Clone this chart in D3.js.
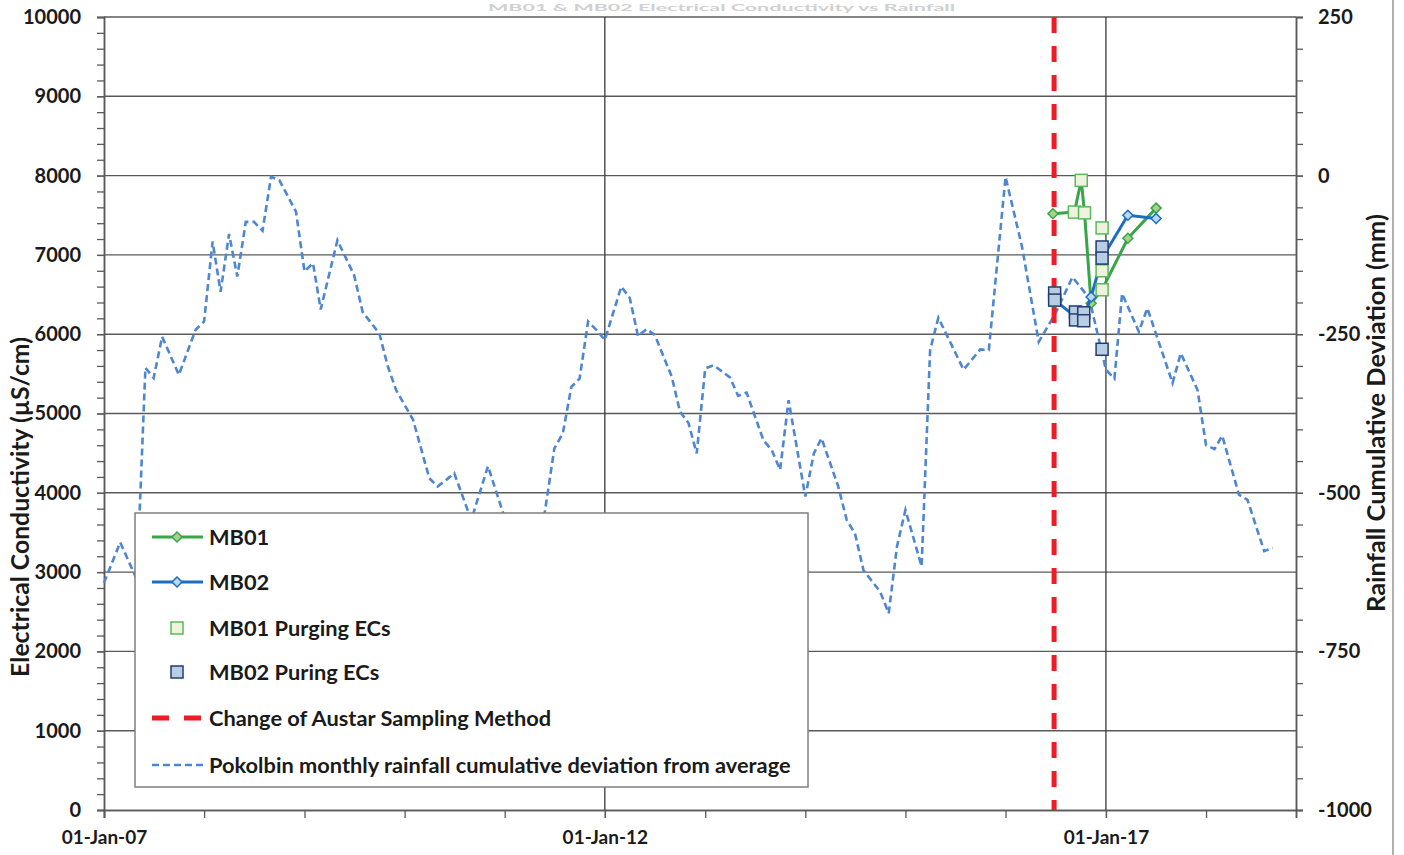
<!DOCTYPE html>
<html><head><meta charset="utf-8">
<script src="https://cdn.jsdelivr.net/npm/d3@7"></script>
<style>
body{margin:0;background:#fff}
svg{display:block}
text{font-family:Lato,"Open Sans",sans-serif;font-weight:700;fill:#1a1a1a}
</style>
</head><body>
<svg id="c" width="1404" height="855"></svg>
<script>
// ---------------- DATA ----------------
const rainMonths = ["2007-01","2007-03","2007-05","2007-06","2007-07","2007-08","2007-10","2007-12",
"2008-01","2008-02","2008-03","2008-04","2008-05","2008-06","2008-07","2008-08","2008-09","2008-10","2008-12",
"2009-01","2009-02","2009-03","2009-05","2009-07","2009-08","2009-10","2009-11","2009-12",
"2010-02","2010-04","2010-05","2010-06","2010-07","2010-09","2010-11",
"2011-01","2011-03","2011-05","2011-07","2011-08","2011-09","2011-10","2011-11","2011-12",
"2012-01","2012-03","2012-04","2012-05","2012-06","2012-07","2012-09","2012-10","2012-11","2012-12",
"2013-01","2013-02","2013-04","2013-05","2013-06","2013-08","2013-09","2013-10","2013-11",
"2014-01","2014-02","2014-03","2014-05","2014-06","2014-07","2014-08","2014-10","2014-11","2014-12",
"2015-01","2015-03","2015-04","2015-05","2015-08","2015-10","2015-11",
"2016-01","2016-03","2016-05","2016-07","2016-09","2016-11",
"2017-01","2017-02","2017-03","2017-05","2017-06","2017-09","2017-10","2017-12",
"2018-01","2018-02","2018-03","2018-05","2018-06","2018-08","2018-09"];
const rainValues = [-642,-578,-637,-303,-319,-254,-314,-243,
-230,-104,-183,-92,-159,-73,-73,-87,-2,-7,-57,
-151,-138,-211,-102,-157,-215,-249,-301,-338,
-385,-477,-490,-480,-469,-543,-458,
-540,-640,-606,-430,-406,-333,-320,-230,-243,
-259,-175,-193,-253,-242,-251,-317,-372,-390,-438,
-304,-299,-318,-347,-342,-417,-433,-464,-354,
-506,-438,-414,-490,-543,-564,-622,-656,-690,-585,
-527,-616,-275,-224,-306,-274,-275,
-2,-112,-262,-217,-160,-193,
-306,-320,-186,-246,-209,-327,-280,-338,
-425,-431,-410,-503,-511,-592,-587];

const mb01Dates = ["2016-06-22","2016-09-08","2016-10-03","2016-10-15","2016-11-08","2016-12-18","2017-03-22","2017-07-03"];
const mb01EC    = [7520,7540,7940,7530,6390,6560,7210,7590];
const mb02Dates = ["2016-06-28","2016-09-12","2016-10-12","2016-11-08","2016-12-18","2017-03-22","2017-07-03"];
const mb02EC    = [6430,6220,6220,6470,6960,7500,7460];
const mb01PurgeDates = ["2016-09-08","2016-10-03","2016-10-15","2016-12-18","2016-12-18","2016-12-18"];
const mb01PurgeEC    = [7540,7940,7530,7340,6800,6560];
const mb02PurgeDates = ["2016-06-28","2016-06-28","2016-09-12","2016-09-12","2016-10-12","2016-10-12","2016-12-18","2016-12-18","2016-12-18"];
const mb02PurgeEC    = [6520,6430,6280,6180,6270,6170,7100,6960,5810];

const samplingChangeDate = "2016-06-26";

const xDomain = ["2007-01-01","2018-11-25"];
const xMajorTicks = ["2007-01-01","2012-01-01","2017-01-01"];
const ecTicks = [0,1000,2000,3000,4000,5000,6000,7000,8000,9000,10000];
const rainTicks = [-1000,-750,-500,-250,0,250];

const legendLabels = ["MB01","MB02","MB01 Purging ECs","MB02 Puring ECs",
  "Change of Austar Sampling Method","Pokolbin monthly rainfall cumulative deviation from average"];
const yTitleLeft = "Electrical Conductivity (µS/cm)";
const yTitleRight = "Rainfall Cumulative Deviation (mm)";
const chartTitle = "MB01 & MB02 Electrical Conductivity vs Rainfall";

// ---------------- STYLE ----------------
const C = {
  grid:"#5a5a5a", vgrid:"#3a3a3a", axis:"#5a5a5a",
  rain:"#4f86d0", red:"#ee1c25",
  g:"#38a548", gFill:"#a9d18e", gSqFill:"#eef3dc", gSqStroke:"#5cb85c",
  b:"#1b6ec2", bFill:"#bdd7ee", bSqFill:"#b9cde5", bSqStroke:"#1f3e6e"
};

const svg = d3.select("#c");
const pd = d3.utcParse("%Y-%m-%d"), pm = d3.utcParse("%Y-%m");
const L=104, R=1296, T=17, B=810;

const x = d3.scaleUtc().domain(xDomain.map(pd)).range([L,R]);
const yEC = d3.scaleLinear().domain([0,10000]).range([B,T]);
const yRain = d3.scaleLinear().domain([-1000,250]).range([B,T]);

function fit(sel, target){
  const w = sel.node().getComputedTextLength();
  const fs = parseFloat(sel.attr("font-size"));
  sel.attr("font-size", fs*target/w);
}

// page border line at right
svg.append("line").attr("x1",1393).attr("x2",1393).attr("y1",0).attr("y2",855)
  .attr("stroke","#b0b0b0").attr("stroke-width",2);

// faint title (mostly cropped in the source image)
svg.append("text").attr("x",488).attr("y",11)
  .attr("font-size",9).attr("textLength",467).attr("lengthAdjust","spacingAndGlyphs")
  .style("fill","#d0d0d0").text(chartTitle);

// gridlines
svg.append("g").selectAll("line").data(ecTicks.filter(d=>d>0)).join("line")
  .attr("x1",L).attr("x2",R).attr("y1",d=>yEC(d)).attr("y2",d=>yEC(d))
  .attr("stroke",C.grid).attr("stroke-width",1.4);
svg.append("g").selectAll("line").data(xMajorTicks.slice(1).map(pd)).join("line")
  .attr("x1",d=>x(d)).attr("x2",d=>x(d)).attr("y1",T).attr("y2",B)
  .attr("stroke",C.vgrid).attr("stroke-width",1.3);

// axes
function styleAxis(g){
  g.selectAll("path.domain").attr("stroke",C.axis).attr("stroke-width",1.5);
  g.selectAll(".tick line").attr("stroke",C.axis).attr("stroke-width",1.3);
  g.selectAll("text").attr("font-family",null).attr("font-size",null)
   .style("font-size","20px").style("font-weight","700").style("fill","#1a1a1a")
   .style("font-family","Lato, 'Open Sans', sans-serif");
}
const fmt = d => String(d);
svg.append("g").attr("transform",`translate(${L},0)`)
  .call(d3.axisLeft(yEC).tickValues(d3.range(0,10001,200)).tickSize(7).tickFormat(""))
  .call(styleAxis);
svg.append("g").attr("transform",`translate(${L},0)`)
  .call(d3.axisLeft(yEC).tickValues(ecTicks).tickSize(7).tickPadding(16).tickFormat(fmt))
  .call(styleAxis);
svg.append("g").attr("transform",`translate(${R},0)`)
  .call(d3.axisRight(yRain).tickValues(d3.range(-1000,251,50)).tickSize(7).tickFormat(""))
  .call(styleAxis);
svg.append("g").attr("transform",`translate(${R},0)`)
  .call(d3.axisRight(yRain).tickValues(rainTicks).tickSize(7).tickPadding(15).tickFormat(fmt))
  .call(styleAxis);
svg.append("g").attr("transform",`translate(0,${B})`)
  .call(d3.axisBottom(x).tickValues(d3.utcYear.range(pd("2007-01-01"), x.domain()[1])).tickSize(8).tickFormat(""))
  .call(styleAxis);
const xb = svg.append("g").attr("transform",`translate(0,${B})`)
  .call(d3.axisBottom(x).tickValues(xMajorTicks.map(pd)).tickSize(8).tickPadding(13).tickFormat(d3.utcFormat("%d-%b-%y")))
  .call(styleAxis);
xb.selectAll("text").style("font-size","19px");

// axis titles
const lt = svg.append("text").attr("transform","translate(29,507) rotate(-90)")
  .attr("text-anchor","middle").attr("font-size",21).text(yTitleLeft);
fit(lt,340);
const rt = svg.append("text").attr("transform","translate(1385,413) rotate(-90)")
  .attr("text-anchor","middle").attr("font-size",21).text(yTitleRight);
fit(rt,398);

// rainfall line
const rain = rainMonths.map((m,i)=>({d:pm(m),v:rainValues[i]}));
svg.append("path").datum(rain)
  .attr("d",d3.line().x(d=>x(d.d)).y(d=>yRain(d.v)))
  .attr("fill","none").attr("stroke",C.rain).attr("stroke-width",2.6)
  .attr("stroke-dasharray","7,4");

// red sampling change line
svg.append("line").attr("x1",x(pd(samplingChangeDate))).attr("x2",x(pd(samplingChangeDate)))
  .attr("y1",T).attr("y2",B).attr("stroke",C.red).attr("stroke-width",5).attr("stroke-dasharray","16,13");

const diamond = "M0,-5L5,0L0,5L-5,0Z";
function series(dates, vals, col, fill){
  const data = dates.map((d,i)=>({d:pd(d),v:vals[i]}));
  svg.append("path").datum(data).attr("d",d3.line().x(d=>x(d.d)).y(d=>yEC(d.v)))
    .attr("fill","none").attr("stroke",col).attr("stroke-width",3);
  svg.append("g").selectAll("path").data(data).join("path")
    .attr("d",diamond).attr("transform",d=>`translate(${x(d.d)},${yEC(d.v)})`)
    .attr("fill",fill).attr("stroke",col).attr("stroke-width",1.5);
}
function squares(dates, vals, fill, stroke){
  const data = dates.map((d,i)=>({d:pd(d),v:vals[i]}));
  svg.append("g").selectAll("rect").data(data).join("rect")
    .attr("x",d=>x(d.d)-6).attr("y",d=>yEC(d.v)-6).attr("width",12).attr("height",12)
    .attr("fill",fill).attr("stroke",stroke).attr("stroke-width",1.5);
}
series(mb01Dates, mb01EC, C.g, C.gFill);
series(mb02Dates, mb02EC, C.b, C.bFill);
squares(mb01PurgeDates, mb01PurgeEC, C.gSqFill, C.gSqStroke);
squares(mb02PurgeDates, mb02PurgeEC, C.bSqFill, C.bSqStroke);

// legend
const lg = svg.append("g");
lg.append("rect").attr("x",135).attr("y",513).attr("width",673).attr("height",274)
  .attr("fill","#fff").attr("stroke","#7f7f7f").attr("stroke-width",1.5);
const rowsY = [537,582,628,672,718,765];
const sx0=152, sx1=203, sxc=177;
lg.append("line").attr("x1",sx0).attr("x2",sx1).attr("y1",rowsY[0]).attr("y2",rowsY[0]).attr("stroke",C.g).attr("stroke-width",3);
lg.append("path").attr("d",diamond).attr("transform",`translate(${sxc},${rowsY[0]})`).attr("fill",C.gFill).attr("stroke",C.g).attr("stroke-width",1.5);
lg.append("line").attr("x1",sx0).attr("x2",sx1).attr("y1",rowsY[1]).attr("y2",rowsY[1]).attr("stroke",C.b).attr("stroke-width",3);
lg.append("path").attr("d",diamond).attr("transform",`translate(${sxc},${rowsY[1]})`).attr("fill",C.bFill).attr("stroke",C.b).attr("stroke-width",1.5);
lg.append("rect").attr("x",sxc-6).attr("y",rowsY[2]-6).attr("width",12).attr("height",12).attr("fill",C.gSqFill).attr("stroke",C.gSqStroke).attr("stroke-width",1.5);
lg.append("rect").attr("x",sxc-6).attr("y",rowsY[3]-6).attr("width",12).attr("height",12).attr("fill",C.bSqFill).attr("stroke",C.bSqStroke).attr("stroke-width",1.5);
lg.append("line").attr("x1",sx0).attr("x2",sx1).attr("y1",rowsY[4]).attr("y2",rowsY[4]).attr("stroke",C.red).attr("stroke-width",5).attr("stroke-dasharray","17,15");
lg.append("line").attr("x1",sx0).attr("x2",sx1).attr("y1",rowsY[5]).attr("y2",rowsY[5]).attr("stroke",C.rain).attr("stroke-width",2.6).attr("stroke-dasharray","7,4");
lg.selectAll("text").data(legendLabels).join("text")
  .attr("x",209).attr("y",(d,i)=>rowsY[i]).attr("dy","0.35em").attr("font-size",20).text(d=>d);
const longT = lg.selectAll("text").filter((d,i)=>i===5);
const w = longT.node().getComputedTextLength();
lg.selectAll("text").attr("font-size",20*582/w);
</script>
</body></html>
